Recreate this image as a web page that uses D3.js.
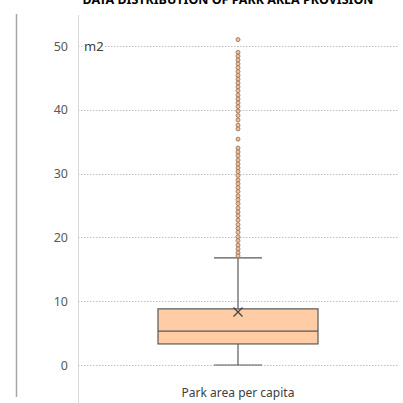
<!DOCTYPE html>
<html>
<head>
<meta charset="utf-8">
<script src="https://cdn.jsdelivr.net/npm/d3@7"></script>
<style>
  body { margin: 0; background: #fff; }
  text { font-family: "Noto Sans", "Open Sans", sans-serif; }
</style>
</head>
<body>
<svg id="chart" width="403" height="403"></svg>
<script>
// data
var category = ["Park area per capita"];
var yTicks = [0, 10, 20, 30, 40, 50];
var boxStats = { min: 0, q1: 3.3, median: 5.3, q3: 8.8, max: 16.8, mean: 8.3 };
var outliers = [
  51.0,
  49.0, 48.4, 47.8, 47.2, 46.6, 46.0, 45.4, 44.8, 44.2, 43.6, 43.0, 42.3,
  41.7, 41.1, 40.5, 39.8, 39.1, 38.4, 37.6, 37.0,
  35.4,
  34.0, 33.4, 32.8, 32.1, 31.5, 30.9, 30.3, 29.7, 29.0, 28.4, 27.8, 27.2,
  26.5, 25.9, 25.3, 24.6, 24.0, 23.4, 22.7, 22.0, 21.4, 20.8, 20.1, 19.5,
  18.8, 18.2, 17.6, 17.1
];

var svg = d3.select("#chart");

var y = d3.scaleLinear().domain([0, 50]).range([365, 46]);
var x = d3.scaleBand().domain(category).range([78, 398]).paddingInner(0).paddingOuter(0.5);

// title (clipped at top like the source)
svg.append("text")
   .attr("x", 228).attr("y", 4)
   .attr("text-anchor", "middle")
   .attr("font-size", 12.5)
   .attr("font-weight", "bold")
   .attr("fill", "#000")
   .text("DATA DISTRIBUTION OF PARK AREA PROVISION");

// outer left rule
svg.append("line")
   .attr("x1", 16.5).attr("x2", 16.5)
   .attr("y1", 14).attr("y2", 397)
   .attr("stroke", "#a6a6a6").attr("stroke-width", 1.5);

// gridlines
svg.append("g").selectAll("line").data(yTicks).join("line")
   .attr("x1", 78).attr("x2", 398)
   .attr("y1", function(d){ return Math.round(y(d)) + 0.5 })
   .attr("y2", function(d){ return Math.round(y(d)) + 0.5 })
   .attr("stroke", "#bfbfbf")
   .attr("stroke-dasharray", "1.5,1.5");

// plot left edge
svg.append("line")
   .attr("x1", 78.5).attr("x2", 78.5)
   .attr("y1", 15).attr("y2", 403)
   .attr("stroke", "#d9d9d9");

// y axis labels
var yAxis = d3.axisLeft(y).tickValues(yTicks).tickSize(0).tickPadding(10);
var gy = svg.append("g").attr("transform", "translate(78,0)").call(yAxis);
gy.select(".domain").remove();
gy.selectAll("text")
  .attr("font-size", 12.5)
  .attr("fill", "#595959")
  .style("font-family", "'Noto Sans', sans-serif");

// unit label
svg.append("text")
   .attr("x", 84).attr("y", y(50) + 4.5)
   .attr("font-size", 13)
   .attr("fill", "#404040")
   .attr("stroke", "#fff").attr("stroke-width", 3).attr("paint-order", "stroke")
   .text("m2");

var cx = x(category[0]) + x.bandwidth() / 2;
var stroke = "#595959";

// whiskers
var g = svg.append("g");
g.append("line").attr("x1", cx).attr("x2", cx).attr("y1", y(boxStats.q3)).attr("y2", y(boxStats.max))
 .attr("stroke", stroke).attr("stroke-width", 1.2);
g.append("line").attr("x1", cx).attr("x2", cx).attr("y1", y(boxStats.q1)).attr("y2", y(boxStats.min))
 .attr("stroke", stroke).attr("stroke-width", 1.2);
g.selectAll("line.cap").data([boxStats.min, boxStats.max]).join("line").attr("class", "cap")
 .attr("x1", cx - 24).attr("x2", cx + 24)
 .attr("y1", function(d){ return y(d) }).attr("y2", function(d){ return y(d) })
 .attr("stroke", stroke).attr("stroke-width", 1.2);

// box
g.append("rect")
 .attr("x", x(category[0])).attr("width", x.bandwidth())
 .attr("y", y(boxStats.q3)).attr("height", y(boxStats.q1) - y(boxStats.q3))
 .attr("fill", "#ffcca6").attr("stroke", stroke).attr("stroke-width", 1.2);
g.append("line")
 .attr("x1", x(category[0])).attr("x2", x(category[0]) + x.bandwidth())
 .attr("y1", y(boxStats.median)).attr("y2", y(boxStats.median))
 .attr("stroke", stroke).attr("stroke-width", 1.2);

// mean marker
var my = y(boxStats.mean), s = 4.5;
g.append("path")
 .attr("d", "M" + (cx - s) + "," + (my - s) + "L" + (cx + s) + "," + (my + s) +
            "M" + (cx + s) + "," + (my - s) + "L" + (cx - s) + "," + (my + s))
 .attr("stroke", "#404040").attr("stroke-width", 1.2);

// outliers
g.selectAll("circle").data(outliers).join("circle")
 .attr("cx", cx).attr("cy", function(d){ return y(d) })
 .attr("r", 2)
 .attr("fill", "#f7bf95")
 .attr("stroke", "#8a6a55").attr("stroke-width", 0.8);

// category label
svg.append("text")
   .attr("x", cx).attr("y", 397)
   .attr("text-anchor", "middle")
   .attr("font-size", 12)
   .attr("fill", "#404040")
   .text(category[0]);
</script>
</body>
</html>
